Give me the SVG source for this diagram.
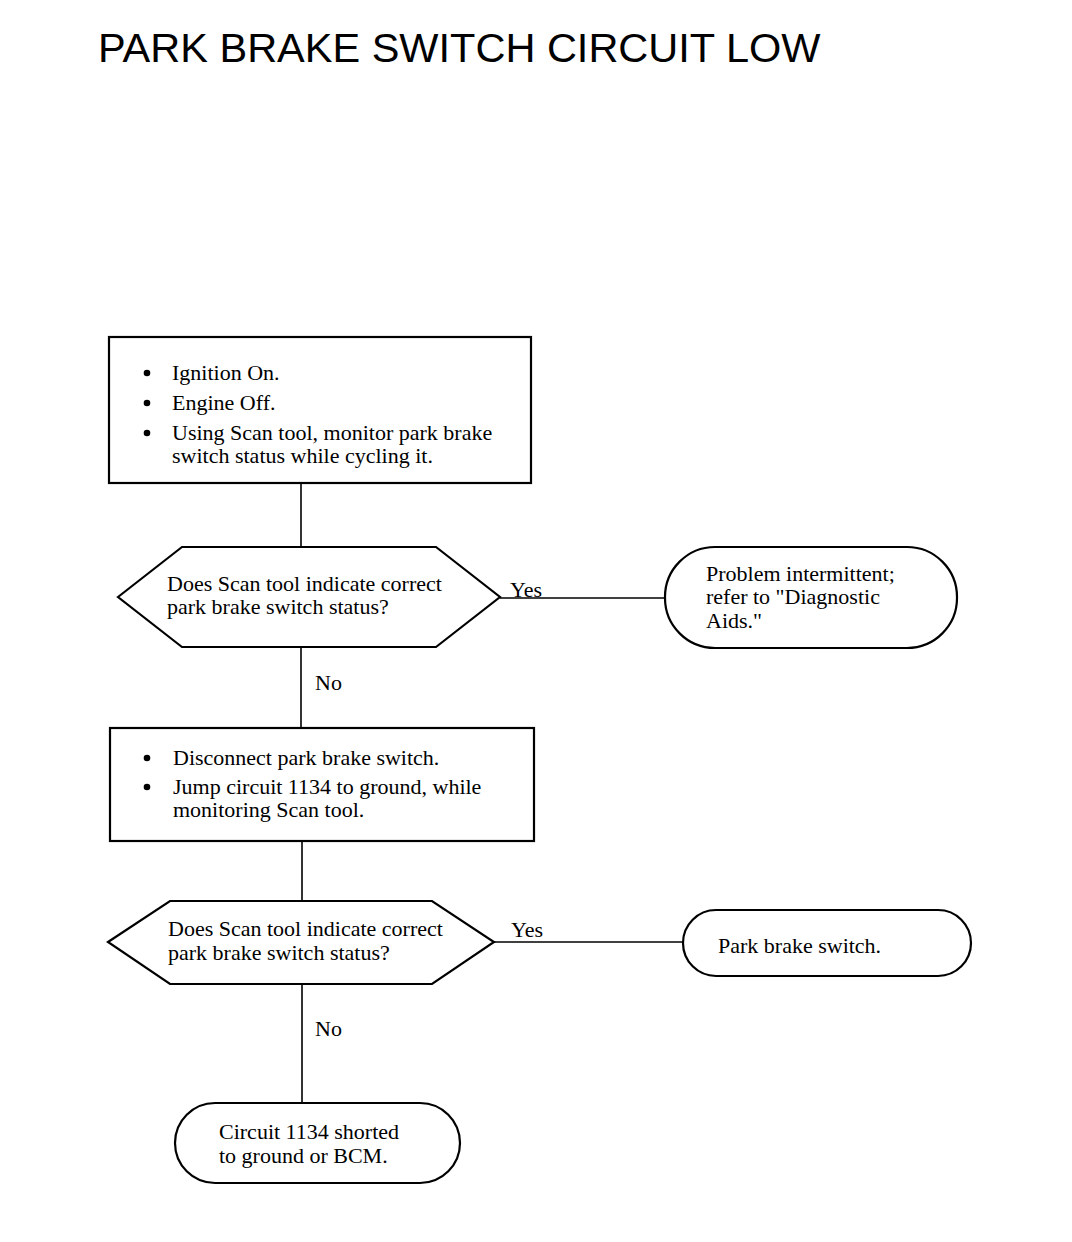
<svg xmlns="http://www.w3.org/2000/svg" width="1072" height="1242" viewBox="0 0 1072 1242">
<style>
.shape{fill:#fff;stroke:#000;stroke-width:2.2}
.line{stroke:#000;stroke-width:1.6;fill:none}
.t{font-family:"Liberation Serif","Times New Roman",serif;font-size:22px;fill:#000}
.title{font-family:"Liberation Sans",Arial,sans-serif;font-size:41.5px;fill:#000}
</style>
<rect width="1072" height="1242" fill="#fff"/>
<text class="title" x="98" y="62">PARK BRAKE SWITCH CIRCUIT LOW</text>
<g id="connectors">
<line class="line" x1="301" y1="483" x2="301" y2="547"/>
<line class="line" x1="500" y1="598" x2="665" y2="598"/>
<line class="line" x1="301" y1="647" x2="301" y2="728"/>
<line class="line" x1="302" y1="841" x2="302" y2="901"/>
<line class="line" x1="494" y1="942" x2="683" y2="942"/>
<line class="line" x1="302" y1="984" x2="302" y2="1103"/>
<text class="t" x="510" y="597">Yes</text>
<text class="t" x="315" y="690">No</text>
<text class="t" x="511" y="937">Yes</text>
<text class="t" x="315" y="1036">No</text>
</g>
<g id="step1">
<rect class="shape" x="109" y="337" width="422" height="146"/>
<circle cx="147" cy="373" r="3.3"/>
<circle cx="147" cy="403" r="3.3"/>
<circle cx="147" cy="433" r="3.3"/>
<text class="t" x="172" y="380">Ignition On.</text>
<text class="t" x="172" y="410">Engine Off.</text>
<text class="t" x="172" y="440">Using Scan tool, monitor park brake</text>
<text class="t" x="172" y="463">switch status while cycling it.</text>
</g>
<g id="decision1">
<polygon class="shape" points="118,597 182,547 436,547 500,597 436,647 182,647"/>
<text class="t" x="167" y="591">Does Scan tool indicate correct</text>
<text class="t" x="167" y="614">park brake switch status?</text>
</g>
<g id="result1">
<rect class="shape" x="665" y="547" width="292" height="101" rx="50" ry="50"/>
<text class="t" x="706" y="581">Problem intermittent;</text>
<text class="t" x="706" y="604">refer to "Diagnostic</text>
<text class="t" x="706" y="628">Aids."</text>
</g>
<g id="step2">
<rect class="shape" x="110" y="728" width="424" height="113"/>
<circle cx="147" cy="758" r="3.3"/>
<circle cx="147" cy="787" r="3.3"/>
<text class="t" x="173" y="765">Disconnect park brake switch.</text>
<text class="t" x="173" y="794">Jump circuit 1134 to ground, while</text>
<text class="t" x="173" y="817">monitoring Scan tool.</text>
</g>
<g id="decision2">
<polygon class="shape" points="108,942 170,901 432,901 494,942 432,984 170,984"/>
<text class="t" x="168" y="936">Does Scan tool indicate correct</text>
<text class="t" x="168" y="960">park brake switch status?</text>
</g>
<g id="result2">
<rect class="shape" x="683" y="910" width="288" height="66" rx="33" ry="33"/>
<text class="t" x="718" y="953">Park brake switch.</text>
</g>
<g id="result3">
<rect class="shape" x="175" y="1103" width="285" height="80" rx="40" ry="40"/>
<text class="t" x="219" y="1139">Circuit 1134 shorted</text>
<text class="t" x="219" y="1163">to ground or BCM.</text>
</g>
</svg>
